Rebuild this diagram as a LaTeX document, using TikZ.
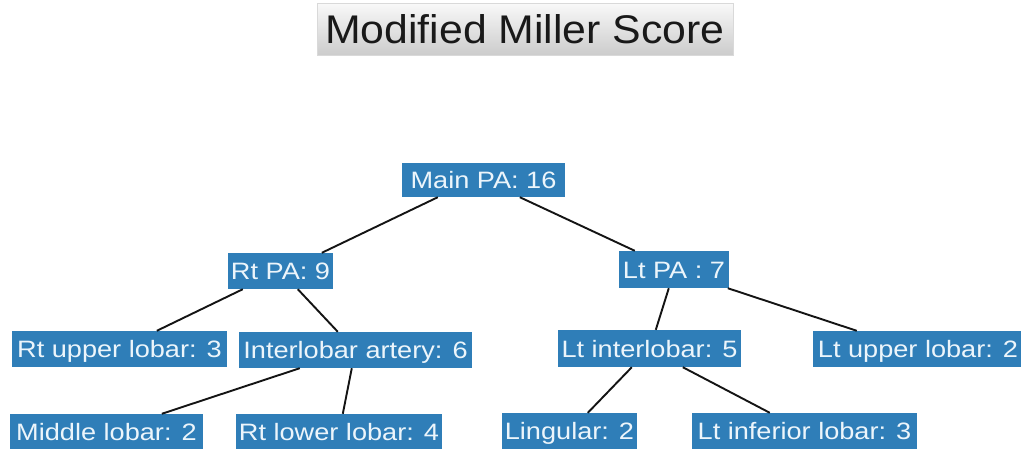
\documentclass[tikz,border=0pt]{standalone}
\usepackage{fontspec}
\setmainfont{Liberation Sans}
\newfontfamily\boxfont{Liberation Sans}[FakeStretch=1.145]
\newfontfamily\titlefont{Liberation Sans}[FakeStretch=1.07]
\definecolor{boxblue}{RGB}{47,126,184}
\definecolor{boxtext}{RGB}{236,245,251}
\definecolor{linkcol}{RGB}{20,20,20}
\tikzset{
  blubox/.style={fill=boxblue, text=boxtext, inner sep=0pt, minimum height=36pt,
    font=\boxfont\fontsize{23.7}{26}\selectfont, text height=17pt, text depth=0pt, anchor=center},
  link/.style={draw=linkcol, line width=1.9pt},
  titlebox/.style={top color=gray!5, bottom color=gray!40, draw=gray!30, line width=0.4pt,
    inner sep=0pt, minimum width=416pt, minimum height=52pt,
    font=\titlefont\fontsize{40}{44}\selectfont, text=black!90, text height=28.6pt, text depth=0pt}
}
\begin{document}
\begin{tikzpicture}[x=1pt,y=-1pt]
\useasboundingbox[fill=white] (0,0) rectangle (1021,448);
\node[titlebox] (title) at (525,29) {Modified Miller Score};
\node[blubox, minimum width=163pt, minimum height=34pt] (main) at (483.5,180) {Main PA: 16};
\node[blubox, minimum width=105pt] (rtpa) at (280.5,271) {Rt PA: 9};
\node[blubox, minimum width=110pt, minimum height=37pt] (ltpa) at (674,269.5) {Lt PA : 7};
\node[blubox, minimum width=215pt] (rtup) at (119.5,349) {Rt upper lobar: 3};
\node[blubox, minimum width=233pt] (inter) at (355.5,350) {Interlobar artery: 6};
\node[blubox, minimum width=183pt, minimum height=37pt] (ltint) at (649.5,348.5) {Lt interlobar: 5};
\node[blubox, minimum width=210pt] (ltup) at (918,349) {Lt upper lobar: 2};
\node[blubox, minimum width=193pt] (mid) at (106.5,432) {Middle lobar: 2};
\node[blubox, minimum width=206pt] (rtlow) at (339,432) {Rt lower lobar: 4};
\node[blubox, minimum width=135pt] (ling) at (569.5,431) {Lingular: 2};
\node[blubox, minimum width=225pt] (ltinf) at (804.5,431) {Lt inferior lobar: 3};
\draw[link] ([xshift=36pt]main.south west) -- ([xshift=94pt]rtpa.north west);
\draw[link] ([xshift=118pt]main.south west) -- ([xshift=16pt]ltpa.north west);
\draw[link] ([xshift=15pt]rtpa.south west) -- ([xshift=145pt]rtup.north west);
\draw[link] ([xshift=70pt]rtpa.south west) -- ([xshift=99pt]inter.north west);
\draw[link] ([xshift=61pt]inter.south west) -- ([xshift=152pt]mid.north west);
\draw[link] ([xshift=113pt]inter.south west) -- ([xshift=107pt]rtlow.north west);
\draw[link] ([xshift=50pt]ltpa.south west) -- ([xshift=98pt]ltint.north west);
\draw[link] ([xshift=109pt]ltpa.south west) -- ([xshift=44pt]ltup.north west);
\draw[link] ([xshift=74pt]ltint.south west) -- ([xshift=86pt]ling.north west);
\draw[link] ([xshift=125pt]ltint.south west) -- ([xshift=78pt]ltinf.north west);
\end{tikzpicture}
\end{document}
